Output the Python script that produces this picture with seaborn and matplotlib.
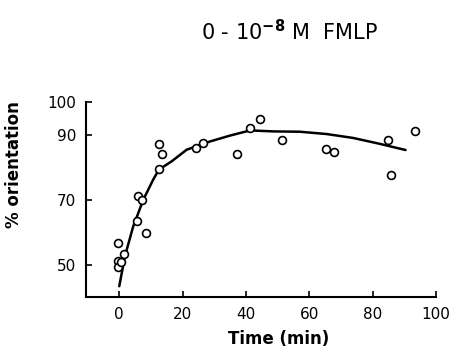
import numpy as np
import pandas as pd
import matplotlib
matplotlib.use('Agg')
import matplotlib.pyplot as plt
import seaborn as sb

# measured points (time in min, % orientation)
time_pts = [-0.5, -0.5, -0.5, 0.6, 1.5, 5.6, 6.0, 7.1, 8.6, 12.5, 12.5, 13.5,
            24.2, 26.5, 37.3, 41.3, 44.4, 51.3, 65.3, 67.8, 85.0, 85.7, 93.3]
orient_pts = [56.7, 51.2, 49.5, 51.0, 53.5, 63.7, 71.3, 70.0, 59.8, 79.4, 87.1, 84.1,
              86.0, 87.3, 84.2, 92.1, 94.9, 88.4, 85.7, 84.6, 88.5, 77.8, 91.0]

# fitted curve
curve_t = [0, 1.8, 4.4, 7.6, 10.7, 12.5, 16.5, 21.3, 28.6, 34.9, 41.3, 48.6,
           57.0, 65.4, 73.8, 82.2, 90.4]
curve_y = [43.6, 52.8, 61.9, 70.1, 76.2, 79.3, 81.8, 85.4, 87.9, 89.7, 91.3, 91.0,
           90.9, 90.2, 89.0, 87.2, 85.3]

xticks = [0, 20, 40, 60, 80, 100]
yticks = [50, 70, 90, 100]

pts = pd.DataFrame({'t': time_pts, 'o': orient_pts})
fit = pd.DataFrame({'t': curve_t, 'o': curve_y})

sb.set_style('ticks')
plt.rcParams['font.family'] = ['DejaVu Sans']
plt.rcParams['text.color'] = 'black'
plt.rcParams['axes.labelcolor'] = 'black'
plt.rcParams['xtick.color'] = 'black'
plt.rcParams['ytick.color'] = 'black'

fig = plt.figure(figsize=(4.58, 3.58), dpi=100)
ax = fig.add_axes([86/458, 1 - 297/358, 350/458, 195/358])

sb.lineplot(x='t', y='o', data=fit, color='black', linewidth=1.8,
            estimator=None, sort=False, ax=ax)
sb.scatterplot(x='t', y='o', data=pts, marker='o', s=32, facecolor='white',
               edgecolor='black', linewidth=1.2, zorder=3, ax=ax)

ax.set_xlim(-10.5, 100)
ax.set_ylim(40.3, 100)
ax.set_xticks(xticks)
ax.set_yticks(yticks)
ax.tick_params(direction='in', length=4, width=1.2, labelsize=11, pad=7,
               colors='black')
for s in ['top', 'right']:
    ax.spines[s].set_visible(False)
for s in ['left', 'bottom']:
    ax.spines[s].set_linewidth(1.5)
    ax.spines[s].set_color('black')

ax.set_xlabel('Time (min)', fontsize=12, fontweight='bold')
ax.set_ylabel('% orientation', fontsize=12, fontweight='bold')
ax.xaxis.set_label_coords(0.551, -0.169)
ax.yaxis.set_label_coords(-0.18, 0.68)

fig.text(290/458, 1 - 32/358, r'0 - 10$^{\mathbf{-8}}$ M  FMLP',
         ha='center', va='center', fontsize=15)

fig.savefig('out.png', dpi=100)
